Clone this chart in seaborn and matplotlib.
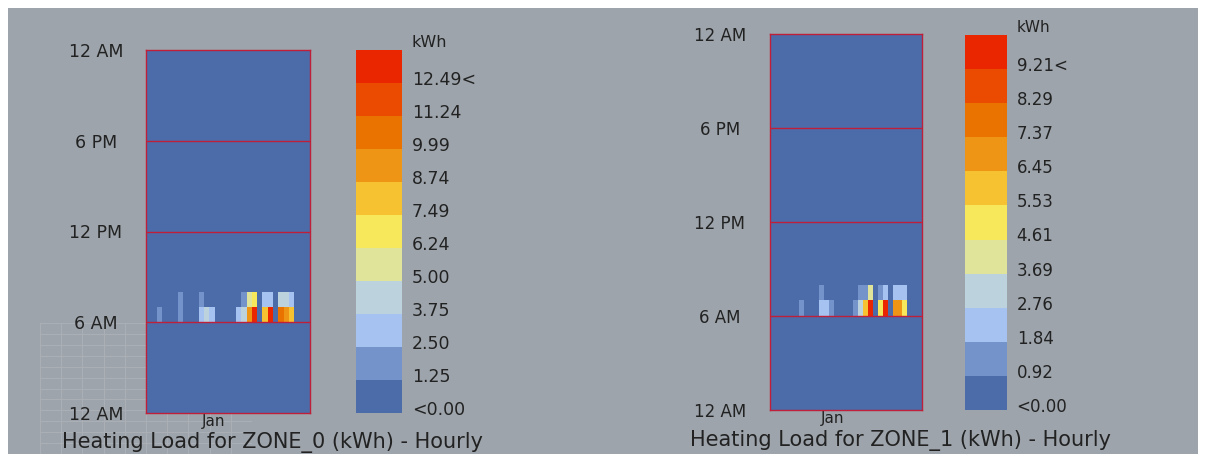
import numpy as np
import matplotlib
matplotlib.use('Agg')
import matplotlib.pyplot as plt
from matplotlib.colors import ListedColormap
from matplotlib.patches import Rectangle
import seaborn as sns

# legend colours, low -> high
legend_colors = ['#4b6ba9', '#7393ca', '#a6c2f0', '#bcd2dc', '#e0e49a', '#f6e85a',
                 '#f6c232', '#ef9516', '#ea7300', '#ea4b00', '#ea2600']

hour_labels = ['12 AM', '6 AM', '12 PM', '6 PM', '12 AM']
month_label = 'Jan'

# hourly heating load (kWh) for the 31 days of January, only 6-7 AM and 7-8 AM are non zero
zone0_6am = [0, 0, 1.6, 0, 0, 0, 1.5, 0, 0, 0, 3.4, 3.9, 3.3, 0, 0, 0, 0, 2.8, 4.6, 9.2,
             13.0, 0, 8.2, 13.0, 0, 10.2, 9.5, 8.0, 0, 0, 0]
zone0_7am = [0, 0, 0, 0, 0, 0, 1.4, 0, 0, 0, 1.6, 0, 0, 0, 0, 0, 0, 0, 1.8, 5.6,
             6.6, 0, 3.0, 3.4, 0, 3.9, 3.9, 3.6, 0, 0, 0]
zone1_6am = [0, 0, 0, 0, 0, 0, 1.2, 0, 0, 0, 2.2, 2.3, 1.7, 0, 0, 0, 0, 1.1, 2.9, 6.0,
             9.6, 0, 5.0, 9.4, 0, 6.9, 7.0, 5.1, 0, 0, 0]
zone1_7am = [0, 0, 0, 0, 0, 0, 0, 0, 0, 0, 1.0, 0, 0, 0, 0, 0, 0, 0, 1.0, 1.5,
             4.0, 0, 1.5, 2.1, 0, 1.9, 1.9, 1.9, 0, 0, 0]

zone0_legend = ['<0.00', '1.25', '2.50', '3.75', '5.00', '6.24', '7.49', '8.74', '9.99', '11.24', '12.49<']
zone1_legend = ['<0.00', '0.92', '1.84', '2.76', '3.69', '4.61', '5.53', '6.45', '7.37', '8.29', '9.21<']
zone0_step = 1.249
zone1_step = 0.921

TXT = '#222222'
RED = '#c01f3a'
plt.rcParams['font.family'] = ['DejaVu Sans']


def load_matrix(h6, h7):
    m = np.zeros((24, 31))
    m[6] = h6
    m[7] = h7
    return m


def draw_panel(ax, cax, data, step, legend, fs):
    cmap = ListedColormap(legend_colors)
    sns.heatmap(data, ax=ax, cmap=cmap, vmin=0, vmax=step * len(legend_colors),
                cbar_ax=cax, xticklabels=False, yticklabels=False)
    ax.set_ylim(0, 24)
    ax.set_yticks([0, 6, 12, 18, 24])
    ax.set_yticklabels(hour_labels, rotation=0)
    ax.set_xticks([12.8])
    ax.set_xticklabels([month_label], rotation=0)
    ax.tick_params(axis='both', length=0, labelsize=fs, colors=TXT)
    ax.tick_params(axis='y', pad=36)
    ax.tick_params(axis='x', pad=0.5, labelsize=11)
    for lbl in ax.get_yticklabels():
        lbl.set_ha('center')
    for h in [6, 12, 18]:
        ax.axhline(h, color=RED, lw=1.0)
    for sp in ax.spines.values():
        sp.set_visible(True)
        sp.set_color(RED)
        sp.set_linewidth(1.0)

    cbar = ax.collections[0].colorbar
    cbar.outline.set_visible(False)
    cbar.set_ticks(np.arange(len(legend)) * step + 0.15 * step)
    cbar.set_ticklabels(legend)
    cax.tick_params(length=0, pad=7, labelsize=fs, colors=TXT)
    cax.annotate('kWh', xy=(1, 1), xycoords='axes fraction', xytext=(7, 0),
                 textcoords='offset points', ha='left', va='bottom', fontsize=fs - 1, color=TXT)


fig = plt.figure(figsize=(12.05, 4.54), dpi=100, facecolor='white')
fig.patches.append(Rectangle((8 / 1205, 0), 1190 / 1205, 446 / 454, transform=fig.transFigure,
                             facecolor='#9da4ab', edgecolor='none', zorder=-10))

# faint grid left over in the lower left corner
gax = fig.add_axes([40 / 1205, 0, 212 / 1205, 131 / 454], zorder=-1)
gax.set_facecolor('none')
gax.set_xlim(0, 10)
gax.set_ylim(0, 12)
gax.set_xticks(range(11))
gax.set_yticks(range(13))
gax.grid(color='#aab0b6', lw=0.7)
gax.tick_params(length=0, labelleft=False, labelbottom=False)
for sp in gax.spines.values():
    sp.set_visible(False)

ax0 = fig.add_axes([146 / 1205, 41 / 454, 164 / 1205, 363 / 454])
cax0 = fig.add_axes([356 / 1205, 41 / 454, 46 / 1205, 363 / 454])
ax1 = fig.add_axes([770 / 1205, 44 / 454, 152 / 1205, 376 / 454])
cax1 = fig.add_axes([965 / 1205, 44 / 454, 42 / 1205, 375 / 454])

draw_panel(ax0, cax0, load_matrix(zone0_6am, zone0_7am), zone0_step, zone0_legend, 12.5)
draw_panel(ax1, cax1, load_matrix(zone1_6am, zone1_7am), zone1_step, zone1_legend, 12)

fig.text(62 / 1205, 6 / 454, 'Heating Load for ZONE_0 (kWh) - Hourly', ha='left', va='baseline',
         fontsize=15, color=TXT)
fig.text(690 / 1205, 8 / 454, 'Heating Load for ZONE_1 (kWh) - Hourly', ha='left', va='baseline',
         fontsize=15, color=TXT)

plt.savefig('out.png', dpi=100, facecolor=fig.get_facecolor())
